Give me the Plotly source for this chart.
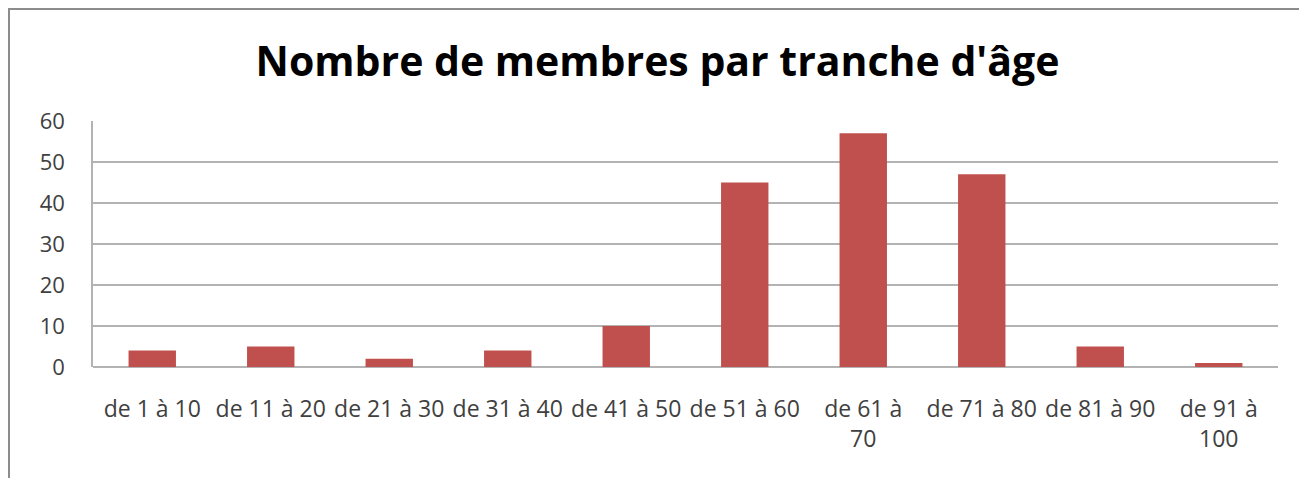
import plotly.graph_objects as go

categories = ["de 1 à 10", "de 11 à 20", "de 21 à 30", "de 31 à 40", "de 41 à 50",
              "de 51 à 60", "de 61 à 70", "de 71 à 80", "de 81 à 90", "de 91 à 100"]
tick_labels = ["de 1 à 10", "de 11 à 20", "de 21 à 30", "de 31 à 40", "de 41 à 50",
               "de 51 à 60", "de 61 à<br>70", "de 71 à 80", "de 81 à 90", "de 91 à<br>100"]
values = [4, 5, 2, 4, 10, 45, 57, 47, 5, 1]
y_ticks = [0, 10, 20, 30, 40, 50, 60]

# page body adds an 8px offset; compensate
OFF = 8
W, H = 1307 - OFF, 478 - OFF
L, R, T, B = 93 - OFF, 29, 121 - OFF, 111

fig = go.Figure(go.Bar(x=categories, y=values, marker=dict(color="#C0504D", line=dict(width=0))))

fig.update_layout(
    width=W, height=H,
    margin=dict(l=L, r=R, t=T, b=B, autoexpand=False),
    paper_bgcolor="white", plot_bgcolor="white",
    bargap=0.6,
    showlegend=False,
    font=dict(family="Open Sans, Lato, sans-serif", color="#404040", size=22),
    title=dict(text="<b>Nombre de membres par tranche d'âge</b>",
               x=0.5, xanchor="center", y=1 - (62 - OFF) / H, yanchor="middle",
               font=dict(family="Open Sans, sans-serif", size=41, color="black")),
)
fig.update_xaxes(
    tickmode="array", tickvals=categories, ticktext=tick_labels,
    showgrid=False, showline=False, ticks="outside", ticklen=21, tickcolor="rgba(0,0,0,0)",
    tickangle=0,
    tickfont=dict(size=23, color="#404040"),
)
fig.update_yaxes(
    range=[0, 60], tickvals=y_ticks, showgrid=True, gridcolor="#b3b3b3", gridwidth=1.5,
    zeroline=True, zerolinecolor="#b3b3b3", zerolinewidth=1.5,
    showline=True, linecolor="#b3b3b3", linewidth=1.5,
    ticks="outside", ticklen=22, tickcolor="rgba(0,0,0,0)",
    tickfont=dict(size=22, color="#404040"),
)

# outer frame (top and left edges), positions in page pixels
px = lambda v: (v - OFF - L) / (W - L - R)
py = lambda v: 1 - (v - OFF - T) / (H - T - B)
fig.add_shape(type="line", xref="paper", yref="paper", x0=px(8), x1=px(1307), y0=py(9), y1=py(9),
              line=dict(color="#8c8c8c", width=2))
fig.add_shape(type="line", xref="paper", yref="paper", x0=px(9), x1=px(9), y0=py(8), y1=py(478),
              line=dict(color="#8c8c8c", width=2))

fig.write_html("out.html")
